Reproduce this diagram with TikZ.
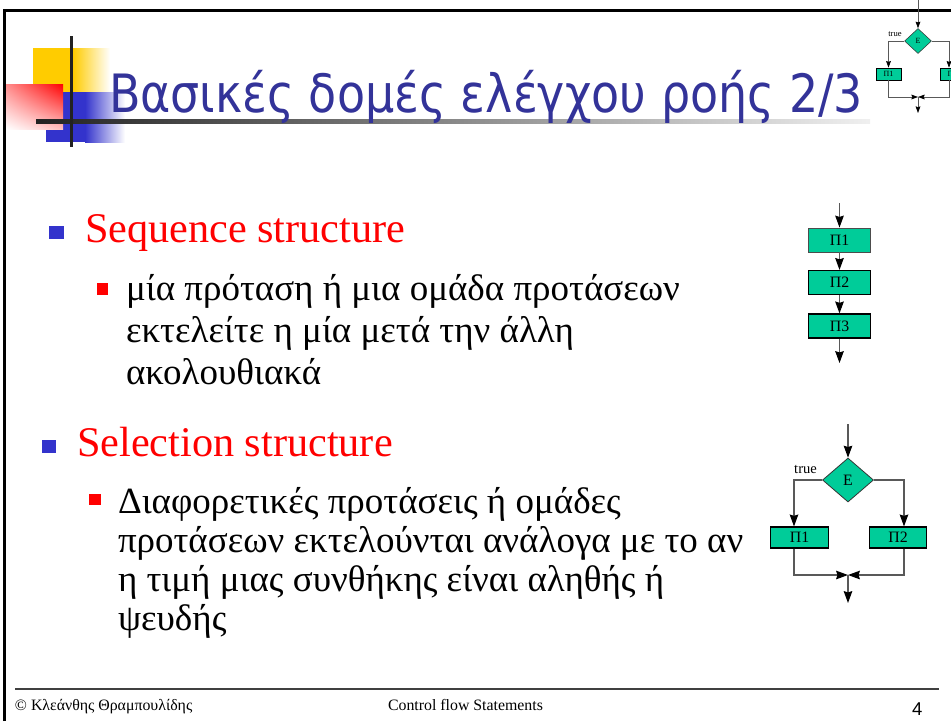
\documentclass[tikz,border=0pt]{standalone}
\usepackage{fontspec}
\setmainfont{Liberation Serif}
\newfontfamily\titlefont{DejaVu Sans}
\newfontfamily\numfont{Liberation Sans}
\usetikzlibrary{shapes.geometric,arrows.meta,shadings}
\definecolor{titleblue}{HTML}{333399}
\definecolor{boxgreen}{HTML}{00CC99}
\definecolor{logoyellow}{HTML}{FFCC00}
\definecolor{logoblue}{HTML}{3333CC}
\definecolor{linegray}{HTML}{222222}
\tikzset{
  txt/.style={anchor=base west, inner sep=0pt, outer sep=0pt},
  lvlone/.style={txt, text=red, font=\fontsize{32}{38}\selectfont},
  lvltwo/.style={txt, font=\fontsize{28}{34}\selectfont},
  fbox/.style={draw=black, line width=0.9pt, fill=boxgreen, inner sep=0pt,
    minimum width=46.9pt, minimum height=18.2pt, font=\fontsize{12}{14}\selectfont},
  sbox/.style={fbox, minimum width=43.5pt, minimum height=15.9pt},
  cond/.style={diamond, draw=black!80, line width=0.6pt, fill=boxgreen, inner sep=0pt,
    minimum width=38.6pt, minimum height=33.3pt, font=\fontsize{12}{14}\selectfont},
  conn/.style={draw=black!65, line width=0.8pt},
  arr/.style={conn, -{Stealth[length=9pt,width=6.5pt,inset=1pt,color=black]}},
  mbox/.style={draw=black, line width=0.5pt, fill=boxgreen, inner sep=0pt,
    minimum width=18.9pt, minimum height=9.1pt, font=\fontsize{6}{7}\selectfont},
  mcond/.style={diamond, draw=black!80, line width=0.4pt, fill=boxgreen, inner sep=0pt,
    minimum width=20.4pt, minimum height=18.9pt, font=\fontsize{6}{7}\selectfont},
  mconn/.style={draw=black!65, line width=0.5pt},
  marr/.style={mconn, -{Stealth[length=5pt,width=3.6pt,inset=0.6pt,color=black]}},
}
\begin{document}
\begin{tikzpicture}[x=0.75709pt,y=-0.75709pt]
\useasboundingbox (0,0) rectangle (951,721);
\fill[white] (0,0) rectangle (951,721);

% slide frame
\draw[line width=2pt] (4.5,721) -- (4.5,10.5) -- (951,10.5);

% title decoration: coloured squares and crossing bars
\fill[logoyellow] (33,48) rectangle (73,92);
\shade[left color=logoyellow, right color=white] (73,48) rectangle (110,92);
\fill[logoblue] (46,92) rectangle (85,142);
\shade[left color=logoblue, right color=white] (85,92) rectangle (125,142);
\shade[upper left=red!45, upper right=red, lower left=white, lower right=red!25] (6,84) rectangle (63,129);
\shade[left color=linegray, right color=black!6] (36,119) rectangle (870,123);
\fill[linegray] (70,36) rectangle (73,147);

% title
\node[txt, text=titleblue, font=\titlefont\fontsize{40}{48}\selectfont] (title) at (109,112)
  {\scalebox{0.87}[1]{Βασικές δομές ελέγχου ροής 2/3}};

% sequence structure text
\fill[logoblue] (49,226) rectangle (64,239);
\node[lvlone] (seq) at (85,242) {Sequence structure};
\fill[red] (97,283) rectangle (108,295);
\node[lvltwo] (seqa) at (126,300) {μία πρόταση ή μια ομάδα προτάσεων};
\node[lvltwo] (seqb) at (126,342) {εκτελείτε η μία μετά την άλλη};
\node[lvltwo] (seqc) at (126,384) {ακολουθιακά};

% selection structure text
\fill[logoblue] (42,440) rectangle (56,453);
\node[lvlone] (sel) at (77,456) {Selection structure};
\fill[red] (89,494) rectangle (101,505);
\node[lvltwo] (sela) at (118,513) {Διαφορετικές προτάσεις ή ομάδες};
\node[lvltwo] (selb) at (118,552) {προτάσεων εκτελούνται ανάλογα με το αν};
\node[lvltwo] (selc) at (118,591) {η τιμή μιας συνθήκης είναι αληθής ή};
\node[lvltwo] (seld) at (118,630) {ψευδής};

% sequence flowchart
\coordinate (sin) at (839.5,203);
\coordinate (sout) at (839.5,363);
\node[fbox, draw=black!70, line width=0.7pt] (s1) at (839.5,240) {Π1};
\node[fbox] (s2) at (839.5,282.5) {Π2};
\node[fbox] (s3) at (839.5,326) {Π3};
\draw[arr] (sin) -- (s1.north);
\draw[arr] (s1) -- (s2);
\draw[arr] (s2) -- (s3);
\draw[arr] (s3) -- (sout);

% selection flowchart
\node[cond] (e) at (848,480) {E};
\node[sbox] (b1) at (799.5,537.5) {Π1};
\node[sbox] (b2) at (898,537.5) {Π2};
\node[txt, anchor=base, font=\fontsize{11}{13}\selectfont] (t) at (805.5,473) {true};
\coordinate (ein) at (848,424);
\coordinate (lc) at (794,480);
\coordinate (rc) at (904,480);
\coordinate (lb) at (794,575);
\coordinate (rb) at (904,575);
\coordinate (mg) at (848,575);
\coordinate (eout) at (848,603);
\draw[arr] (ein) -- (e.north);
\draw[arr] (e.west) -- (lc) -- (lc |- b1.north);
\draw[arr] (e.east) -- (rc) -- (rc |- b2.north);
\draw[arr] (lc |- b1.south) -- (lb) -- (mg);
\draw[arr] (rc |- b2.south) -- (rb) -- (mg);
\draw[arr] (mg) -- (eout);

% small selection chart in the corner, running off the right edge
\node[mcond] (me) at (918,41) {E};
\node[mbox] (m1) at (888.5,74) {Π1};
\node[mbox] (m2) at (952.5,74) {Π2};
\node[txt, anchor=base, font=\fontsize{6.5}{8}\selectfont] (mt) at (895,36) {true};
\coordinate (min) at (918,0);
\coordinate (mlc) at (888.5,41);
\coordinate (mrc) at (949,41);
\coordinate (mlb) at (888.5,97);
\coordinate (mrb) at (949,97);
\coordinate (mmg) at (918,97);
\coordinate (mout) at (918,113);
\draw[marr] (min) -- (me.north);
\draw[marr] (me.west) -- (mlc) -- (m1.north);
\draw[marr] (me.east) -- (mrc) -- (mrc |- m2.north);
\draw[marr] (m1.south) -- (mlb) -- (mmg);
\draw[marr] (mrc |- m2.south) -- (mrb) -- (mmg);
\draw[marr] (mmg) -- (mout);

% footer
\draw[black!75, line width=1pt] (15,689) -- (939,689);
\node[txt, font=\fontsize{12}{14}\selectfont] (auth) at (15,710) {© Κλεάνθης Θραμπουλίδης};
\node[txt, font=\fontsize{12}{14}\selectfont] (topic) at (388,710) {Control flow Statements};
\node[txt, font=\numfont\fontsize{14}{16}\selectfont] (pg) at (912,715) {4};
\end{tikzpicture}
\end{document}
